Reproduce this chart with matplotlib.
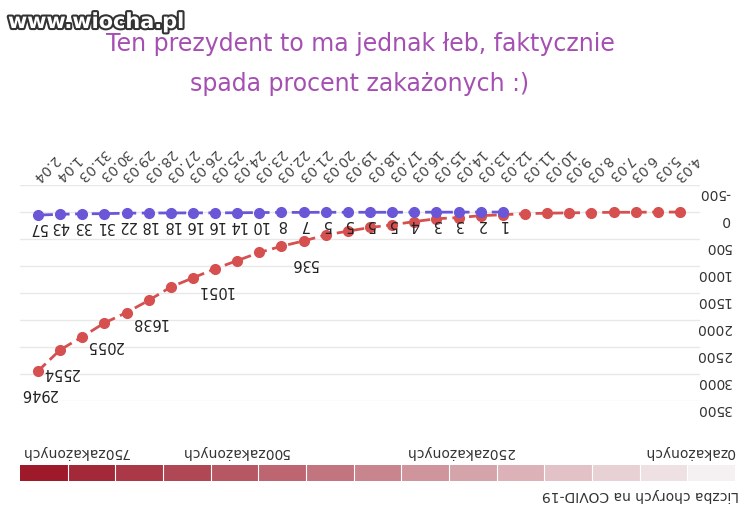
import matplotlib
matplotlib.use("Agg")
import matplotlib.pyplot as plt
import matplotlib.patheffects as pe
import numpy as np
from matplotlib.colors import LinearSegmentedColormap

dates = ["4.03","5.03","6.03","7.03","8.03","9.03","10.03","11.03","12.03","13.03","14.03",
         "15.03","16.03","17.03","18.03","19.03","20.03","21.03","22.03","23.03","24.03",
         "25.03","26.03","27.03","28.03","29.03","30.03","31.03","1.04","2.04"]
cases = [1,1,5,5,11,16,22,31,51,68,104,125,177,238,287,355,425,536,634,749,901,
         1051,1221,1389,1638,1862,2055,2311,2554,2946]
deaths_start = 8
deaths = [1,2,3,3,4,5,5,5,5,7,8,10,14,16,16,18,18,22,31,33,43,57]
case_labels_idx = [17,21,24,26,28,29]
yticks = [-500,0,500,1000,1500,2000,2500,3000,3500]
legend_labels = ["0zakażonych","250zakażonych","500zakażonych","750zakażonych"]

W,H = 750,516
fig = plt.figure(figsize=(7.5,5.16), dpi=100)
fig.patch.set_facecolor("white")

def fx(px): return px/W
def fy(py): return 1-py/H

ax = fig.add_axes([fx(20), fy(401), fx(680), fy(185)-fy(401)])
x = np.arange(len(dates))
b = 22.14
ax.set_xlim((680-20)/b, (680-700)/b)
ax.set_ylim(3500,-500)
for s in ax.spines.values(): s.set_visible(False)
ax.set_yticks([])
ax.set_xticks([])
for v in yticks:
    ax.axhline(v, color="#e8e8e8", lw=1, zorder=0)
    ax.annotate(str(v), (1, v), xycoords=("axes fraction", "data"),
                xytext=(22, -6), textcoords="offset points", rotation=180,
                ha="right", va="center", fontsize=10, color="#333333")

red = "#d65050"; blue = "#6a57d8"
ax.plot(x, cases, ls="--", color=red, lw=2, marker="o", ms=7, dashes=(4,2))
dx = x[deaths_start:deaths_start+len(deaths)]
ax.plot(dx, deaths, ls="--", color=blue, lw=2, marker="o", ms=7, dashes=(4,2))

for i in case_labels_idx:
    ax.annotate(str(cases[i]), (x[i], cases[i]), xytext=(0,-16), textcoords="offset points",
                rotation=180, ha="center", va="center", fontsize=10.5, color="#222222")
for xi, v in zip(dx, deaths):
    ax.annotate(str(v), (xi, v), xytext=(0,-9), textcoords="offset points",
                rotation=180, ha="center", va="center", fontsize=10.5, color="#222222")

for i, d in enumerate(dates):
    ax.annotate(d, (x[i], -500), xytext=(-3,4), textcoords="offset points",
                rotation=225, rotation_mode="anchor", ha="right", va="center",
                fontsize=10, color="#444444")

lax = fig.add_axes([fx(20), fy(481), fx(715), fy(465)-fy(481)])
n = 15
grad = np.linspace(0,1,n)
cmap = LinearSegmentedColormap.from_list("c", ["#9e1a2a", "#f5f0f2"])
lax.imshow(grad[None,:], aspect="auto", cmap=cmap, extent=[0,n,0,1])
for k in range(1,n):
    lax.axvline(k, color="white", lw=0.8)
lax.set_axis_off()
for px, lab in zip([690,460,235,75], legend_labels):
    fig.text(fx(px), fy(452), lab, rotation=180, ha="center", va="center",
             fontsize=10, color="#333333")
fig.text(fx(640), fy(495), "Liczba chorych na COVID-19", rotation=180, ha="center",
         va="center", fontsize=10, color="#333333")

tc = "#a54fb3"
fig.text(fx(360), fy(44), "Ten prezydent to ma jednak łeb, faktycznie", ha="center",
         va="center", fontsize=17, color=tc)
fig.text(fx(360), fy(84), "spada procent zakażonych :)", ha="center",
         va="center", fontsize=17, color=tc)
fig.text(fx(8), fy(22), "www.wiocha.pl", ha="left", va="center", fontsize=15,
         fontweight="bold", color="white",
         path_effects=[pe.withStroke(linewidth=3, foreground="#333333")])

fig.savefig("out.png", dpi=100)
